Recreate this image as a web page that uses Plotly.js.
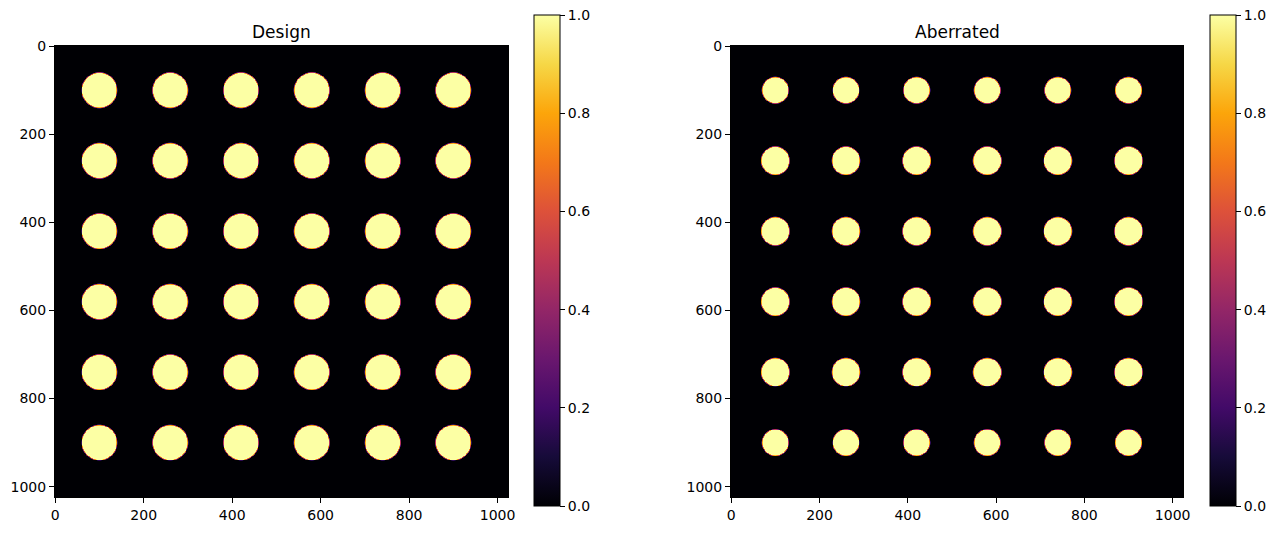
<!DOCTYPE html>
<html>
<head>
<meta charset="utf-8">
<script src="https://cdn.plot.ly/plotly-3.0.1.min.js"></script>
<style>
  html, body { margin: 0; padding: 0; background: #fff; }
  #plot { width: 1277px; height: 547px; }
</style>
</head>
<body>
<div id="plot"></div>
<script>
// spot grid (pixel centres) and radii
var imageSize = 1024;
var spotCenters = [100, 260, 420, 580, 740, 900];
var designRadius = [40, 40, 40, 40, 40, 40];      // per row
var aberratedRadius = [30, 32, 32, 32, 32, 30];   // per row
var panelTitles = ["Design", "Aberrated"];
var tickVals = [0, 200, 400, 600, 800, 1000];
var cbTicks = [0, 0.2, 0.4, 0.6, 0.8, 1.0];

var inferno = [
  [0.0, '#000004'], [0.1, '#160b39'], [0.2, '#420a68'], [0.3, '#6a176e'],
  [0.4, '#932667'], [0.5, '#bc3754'], [0.6, '#dd513a'], [0.7, '#f37819'],
  [0.8, '#fca50a'], [0.9, '#f6d746'], [1.0, '#fcffa4']
];

var coords = [];
for (var i = 0; i < imageSize; i++) coords.push(i);

function nearest(v){
  var k = Math.round((v - spotCenters[0]) / (spotCenters[1] - spotCenters[0]));
  return Math.max(0, Math.min(spotCenters.length - 1, k));
}

// rasterise the spots with a thin soft edge
function spotImage(radii){
  var z = [];
  coords.forEach(function(y){
    var row = [];
    var r = nearest(y);
    var cy = spotCenters[r];
    coords.forEach(function(x){
      var cx = spotCenters[nearest(x)];
      var d = Math.sqrt((x - cx) * (x - cx) + (y - cy) * (y - cy));
      var v = (radii[r] - d) / 3 + 0.5;
      row.push(Math.max(0, Math.min(1, v)));
    });
    z.push(row);
  });
  return z;
}

var W = 1277, H = 547;
var font = {family: 'DejaVu Sans, sans-serif', size: 14, color: '#000'};

function cbar(xpx){
  return {
    x: xpx / W, xanchor: 'left', xpad: 0,
    y: 1 - 506 / H, yanchor: 'bottom', ypad: 0,
    len: 491 / H, lenmode: 'fraction',
    thickness: 26, thicknessmode: 'pixels',
    outlinewidth: 1, outlinecolor: '#000',
    tickvals: cbTicks, tickformat: '.1f',
    ticks: 'outside', ticklen: 5, tickcolor: '#000',
    tickfont: font
  };
}

var data = [
  {type: 'heatmap', x: coords, y: coords, z: spotImage(designRadius),
   zmin: 0, zmax: 1, colorscale: inferno, xaxis: 'x', yaxis: 'y',
   colorbar: cbar(534), hoverinfo: 'skip'},
  {type: 'heatmap', x: coords, y: coords, z: spotImage(aberratedRadius),
   zmin: 0, zmax: 1, colorscale: inferno, xaxis: 'x2', yaxis: 'y2',
   colorbar: cbar(1210), hoverinfo: 'skip'}
];

function xax(l, r, anchor){
  return {domain: [l / W, r / W], anchor: anchor, range: [-0.5, imageSize - 0.5],
    tickvals: tickVals, ticks: 'outside', ticklen: 5, tickcolor: '#000',
    showgrid: false, zeroline: false, showline: true, linecolor: '#000', mirror: true,
    tickfont: font};
}
function yax(anchor){
  return {domain: [1 - 497 / H, 1 - 46 / H], anchor: anchor, range: [imageSize - 0.5, -0.5],
    tickvals: tickVals, ticks: 'outside', ticklen: 5, tickcolor: '#000',
    showgrid: false, zeroline: false, showline: true, linecolor: '#000', mirror: true,
    tickfont: font};
}

var titleFont = {family: 'DejaVu Sans, sans-serif', size: 17, color: '#000'};

var layout = {
  width: W, height: H,
  margin: {l: 0, r: 0, t: 0, b: 0},
  paper_bgcolor: '#fff', plot_bgcolor: '#000',
  xaxis: xax(55, 508, 'y'),
  yaxis: yax('x'),
  xaxis2: xax(731, 1183, 'y2'),
  yaxis2: yax('x2'),
  annotations: [
    {text: panelTitles[0], xref: 'paper', yref: 'paper', x: 281.5 / W, y: 1 - 32 / H,
     xanchor: 'center', yanchor: 'middle', showarrow: false, font: titleFont},
    {text: panelTitles[1], xref: 'paper', yref: 'paper', x: 957 / W, y: 1 - 32 / H,
     xanchor: 'center', yanchor: 'middle', showarrow: false, font: titleFont}
  ],
  showlegend: false
};

Plotly.newPlot('plot', data, layout, {displayModeBar: false, staticPlot: true});
</script>
</body>
</html>
